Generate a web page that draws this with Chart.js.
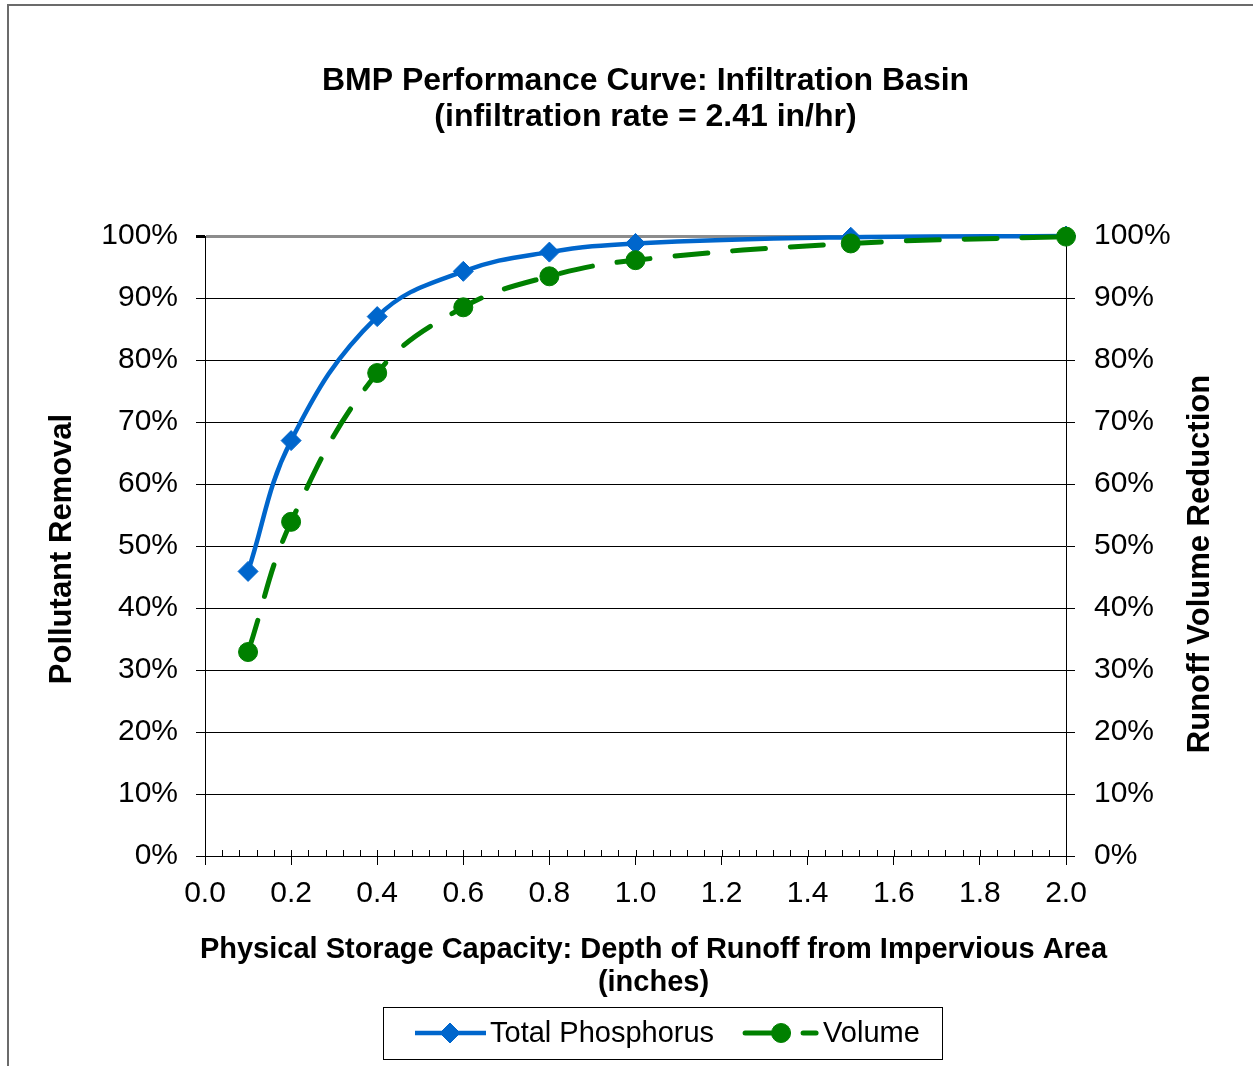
<!DOCTYPE html>
<html>
<head>
<meta charset="utf-8">
<script src="https://cdn.jsdelivr.net/npm/chart.js@4.4.1/dist/chart.umd.min.js"></script>
<style>
  html, body { margin: 0; padding: 0; background: #fff; }
  #wrap { position: relative; width: 1253px; height: 1066px; overflow: hidden; }
  #frame { position: absolute; left: 7px; top: 4px; width: 1300px; height: 1100px;
    border-left: 2px solid #6b6b6b; border-top: 2px solid #6b6b6b; }
  #chart { position: absolute; left: 0; top: 0; }
</style>
</head>
<body>
<div id="wrap">
  <div id="frame"></div>
  <canvas id="chart" width="1253" height="1066"></canvas>
</div>
<script>
// depth of runoff (inches)
const depths = [0.1, 0.2, 0.4, 0.6, 0.8, 1.0, 1.5, 2.0]
// fraction removed / reduced
const phosphorus = [0.459, 0.670, 0.870, 0.943, 0.974, 0.988, 0.998, 1.0]
const volume = [0.329, 0.539, 0.779, 0.885, 0.935, 0.961, 0.988, 0.999]
const seriesNames = ['Total Phosphorus', 'Volume']

const titleLines = ['BMP Performance Curve: Infiltration Basin', '(infiltration rate = 2.41 in/hr)']
const xTitleLines = ['Physical Storage Capacity: Depth of Runoff from Impervious Area', '(inches)']
const yTitle = 'Pollutant Removal'
const y2Title = 'Runoff Volume Reduction'

const FONT = "'Liberation Sans', Arial, sans-serif"
const pct = (v) => Math.round(v * 100) + '%'

// minor ticks, axis titles and the boxed legend
const extras = {
  id: 'extras',
  afterDraw(chart) {
    const { ctx, chartArea } = chart
    const xs = chart.scales.x
    ctx.save()

    // minor ticks every 0.04 inside the plot
    ctx.strokeStyle = '#000'
    ctx.lineWidth = 1
    for (let i = 0; i <= 50; i++) {
      const px = Math.round(xs.getPixelForValue(i * 0.04)) + 0.5
      ctx.beginPath()
      ctx.moveTo(px, chartArea.bottom)
      ctx.lineTo(px, chartArea.bottom - 6)
      ctx.stroke()
    }

    ctx.fillStyle = '#000'
    ctx.textAlign = 'center'
    ctx.textBaseline = 'middle'

    // both vertical titles read bottom to top
    ctx.font = 'bold 31px ' + FONT
    const midPlot = (chartArea.top + chartArea.bottom) / 2
    ctx.save()
    ctx.translate(chartArea.left - 143, midPlot + 3)
    ctx.rotate(-Math.PI / 2)
    ctx.fillText(yTitle, 0, 0)
    ctx.restore()
    ctx.save()
    ctx.translate(chartArea.right + 134, midPlot + 18)
    ctx.rotate(-Math.PI / 2)
    ctx.fillText(y2Title, 0, 0)
    ctx.restore()

    // x axis title
    ctx.font = 'bold 29px ' + FONT
    const cx = (chartArea.left + chartArea.right) / 2 + 18
    xTitleLines.forEach((t, i) => ctx.fillText(t, cx, chartArea.bottom + 94 + i * 33))

    // legend
    ctx.font = '29px ' + FONT
    ctx.textAlign = 'left'
    const boxL = 383, boxT = 1007, boxH = 52
    const midY = boxT + boxH / 2
    let x = boxL + 32
    chart.data.datasets.slice().reverse().forEach((ds) => {
      ctx.save()
      ctx.strokeStyle = ds.borderColor
      ctx.lineWidth = ds.borderWidth
      ctx.lineCap = ds.borderCapStyle || 'butt'
      ctx.setLineDash(ds.borderDash || [])
      ctx.beginPath()
      ctx.moveTo(x, midY)
      ctx.lineTo(x + 71, midY)
      ctx.stroke()
      ctx.restore()
      ctx.fillStyle = ds.backgroundColor
      ctx.strokeStyle = ds.borderColor
      ctx.lineWidth = 1
      Chart.helpers.drawPoint(ctx, { pointStyle: ds.pointStyle, radius: ds.pointRadius, borderWidth: 1 },
        x + (ds.borderDash ? 36 : 35), midY)
      ctx.fillStyle = '#000'
      const tx = x + 71 + (ds.borderDash ? 7 : 4)
      ctx.fillText(ds.label, tx, midY + 1)
      x = tx + ctx.measureText(ds.label).width + 31
    })
    ctx.strokeStyle = '#000'
    ctx.lineWidth = 1
    ctx.strokeRect(boxL + 0.5, boxT + 0.5, 559, boxH)
    ctx.restore()
  },
}

const ctx = document.getElementById('chart').getContext('2d')
// eslint-disable-next-line no-unused-vars
const myChart = new Chart(ctx, {
  type: 'line',
  data: {
    datasets: [
      {
        label: seriesNames[1],
        data: depths.map((d, i) => ({ x: d, y: volume[i] })),
        yAxisID: 'y2',
        borderColor: '#008000',
        backgroundColor: '#008000',
        borderWidth: 5,
        borderDash: [33, 25],
        borderCapStyle: 'round',
        pointStyle: 'circle',
        pointRadius: 9.5,
        pointBorderWidth: 1,
        tension: 0.4,
        clip: false,
      },
      {
        label: seriesNames[0],
        data: depths.map((d, i) => ({ x: d, y: phosphorus[i] })),
        yAxisID: 'y',
        borderColor: '#0066CC',
        backgroundColor: '#0066CC',
        borderWidth: 4.5,
        pointStyle: 'rectRot',
        pointRadius: 10,
        pointBorderWidth: 1,
        tension: 0.4,
        clip: false,
      },
    ],
  },
  options: {
    responsive: false,
    animation: false,
    devicePixelRatio: 1,
    layout: { padding: { left: 38, right: 0, top: 0, bottom: 0 } },
    plugins: {
      legend: { display: false },
      tooltip: { enabled: false },
      title: {
        display: true,
        text: titleLines,
        color: '#000',
        font: { family: FONT, size: 32, weight: 'bold', lineHeight: 1.125 },
        padding: { top: 63, bottom: 101 },
      },
    },
    scales: {
      x: {
        type: 'linear',
        min: 0,
        max: 2,
        ticks: {
          stepSize: 0.2,
          autoSkip: false,
          maxRotation: 0,
          padding: 11,
          color: '#000',
          font: { family: FONT, size: 30 },
          callback: (v) => v.toFixed(1),
        },
        grid: { drawOnChartArea: false, tickLength: 9, tickColor: '#000' },
        border: { display: true, color: '#000', width: 1 },
        afterFit: (s) => { s.height = 210 },
      },
      y: {
        position: 'left',
        min: 0,
        max: 1,
        ticks: {
          stepSize: 0.1,
          padding: 18,
          color: '#000',
          font: { family: FONT, size: 30 },
          callback: pct,
        },
        grid: {
          color: (c) => (c.tick && c.tick.value === 1 ? '#8c8c8c' : '#000'),
          lineWidth: (c) => (c.tick && c.tick.value === 1 ? 3 : 1),
          tickLength: 9,
          tickColor: '#000',
        },
        border: { color: '#000', width: 1 },
        afterFit: (s) => { s.width = 167 },
      },
      y2: {
        position: 'right',
        min: 0,
        max: 1,
        ticks: {
          stepSize: 0.1,
          padding: 19,
          color: '#000',
          font: { family: FONT, size: 30 },
          callback: pct,
        },
        grid: { drawOnChartArea: false, tickLength: 9, tickColor: '#000' },
        border: { color: '#000', width: 1 },
        afterFit: (s) => { s.width = 187 },
      },
    },
  },
  plugins: [extras],
})
</script>
</body>
</html>
